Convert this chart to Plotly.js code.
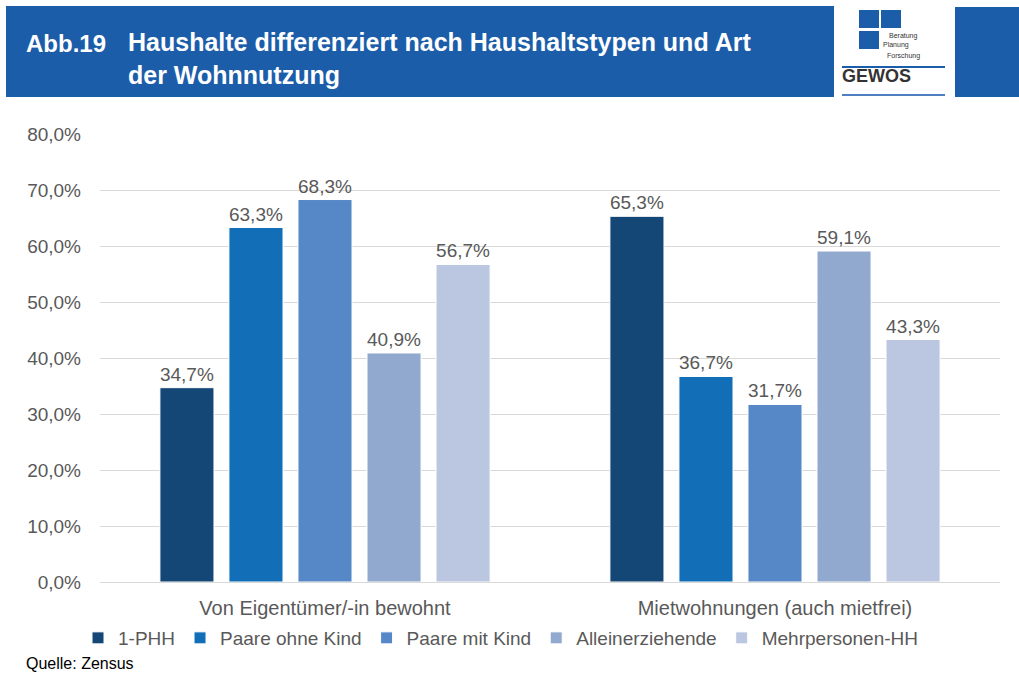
<!DOCTYPE html>
<html>
<head>
<meta charset="utf-8">
<script src="https://cdn.plot.ly/plotly-3.0.1.min.js"></script>
<style>
html,body{margin:0;padding:0;background:#fff;}
#chart{width:1019px;height:673px;}
</style>
</head>
<body>
<div id="chart"></div>
<script>
// ---- data ----
const categories = ["Von Eigentümer/-in bewohnt", "Mietwohnungen (auch mietfrei)"];
const seriesNames = ["1-PHH", "Paare ohne Kind", "Paare mit Kind", "Alleinerziehende", "Mehrpersonen-HH"];
const phh1 = [34.7, 65.3];
const paareOhneKind = [63.3, 36.7];
const paareMitKind = [68.3, 31.7];
const alleinerziehende = [40.9, 59.1];
const mehrpersonen = [56.7, 43.3];
const yTickVals = [0, 10, 20, 30, 40, 50, 60, 70, 80];
const yTickText = ["0,0%", "10,0%", "20,0%", "30,0%", "40,0%", "50,0%", "60,0%", "70,0%", "80,0%"];

const seriesValues = [phh1, paareOhneKind, paareMitKind, alleinerziehende, mehrpersonen];
const colors = ["#144676", "#116EB7", "#5688C8", "#91A9CF", "#BBC6E0"];

const W = 1019, H = 673;
const L = 100, R = 19, T = 134, B = 91;
const pw = W - L - R, ph = H - T - B;
const px = x => (x - L) / pw;
const py = y => (H - B - y) / ph;

const FONT = "Liberation Sans, Arial, sans-serif";
const GRAY = "#595959";

const traces = seriesNames.map((name, i) => ({
  type: "bar",
  name: name,
  x: categories,
  y: seriesValues[i],
  marker: {color: colors[i], line: {color: "#ffffff", width: 1}},
  texttemplate: "%{y:.1f}%",
  textposition: "outside",
  constraintext: "none",
  cliponaxis: false,
  textfont: {family: FONT, size: 19, color: GRAY},
  hoverinfo: "skip"
}));

const BLUE = "#1C5DAA";
const shapes = [
  {type: "rect", xref: "paper", yref: "paper", x0: px(6), x1: px(834), y0: py(6), y1: py(97), fillcolor: BLUE, line: {width: 0}, layer: "below"},
  {type: "rect", xref: "paper", yref: "paper", x0: px(955), x1: px(1019), y0: py(7), y1: py(97), fillcolor: BLUE, line: {width: 0}, layer: "below"},
  {type: "rect", xref: "paper", yref: "paper", x0: px(859), x1: px(879), y0: py(10), y1: py(28), fillcolor: BLUE, line: {width: 0}},
  {type: "rect", xref: "paper", yref: "paper", x0: px(881), x1: px(901), y0: py(10), y1: py(28), fillcolor: BLUE, line: {width: 0}},
  {type: "rect", xref: "paper", yref: "paper", x0: px(859), x1: px(879), y0: py(31), y1: py(49), fillcolor: BLUE, line: {width: 0}},
  {type: "line", xref: "paper", yref: "paper", x0: px(842), x1: px(945), y0: py(67), y1: py(67), line: {color: BLUE, width: 2}},
  {type: "line", xref: "paper", yref: "paper", x0: px(842), x1: px(945), y0: py(95), y1: py(95), line: {color: "#4F7FC0", width: 2}}
];

const annotations = [
  {text: "<b>Abb.19</b>", xref: "paper", yref: "paper", x: px(24), y: py(43), xanchor: "left", yanchor: "middle", showarrow: false, font: {family: FONT, size: 24, color: "#ffffff"}},
  {text: "Beratung", xref: "paper", yref: "paper", x: px(887), y: py(36), xanchor: "left", yanchor: "middle", showarrow: false, font: {family: FONT, size: 7, color: "#333333"}},
  {text: "Planung", xref: "paper", yref: "paper", x: px(881), y: py(45), xanchor: "left", yanchor: "middle", showarrow: false, font: {family: FONT, size: 7, color: "#333333"}},
  {text: "Forschung", xref: "paper", yref: "paper", x: px(885), y: py(56), xanchor: "left", yanchor: "middle", showarrow: false, font: {family: FONT, size: 7, color: "#333333"}},
  {text: "<b>GEWOS</b>", xref: "paper", yref: "paper", x: px(840), y: py(76), xanchor: "left", yanchor: "middle", showarrow: false, font: {family: FONT, size: 18, color: "#333333"}},
  {text: "Quelle: Zensus", xref: "paper", yref: "paper", x: px(24), y: py(663), xanchor: "left", yanchor: "middle", showarrow: false, font: {family: FONT, size: 16, color: "#000000"}}
];

const layout = {
  width: W, height: H,
  margin: {l: L, r: R, t: T, b: B, pad: 0},
  paper_bgcolor: "#ffffff",
  plot_bgcolor: "#ffffff",
  separators: ",.",
  font: {family: FONT, size: 19, color: GRAY},
  title: {
    text: "<b>Haushalte differenziert nach Haushaltstypen und Art<br>der Wohnnutzung</b>",
    x: 128 / W, xanchor: "left", xref: "container",
    y: 1 - 51 / H, yanchor: "top", yref: "container",
    font: {family: FONT, size: 25, color: "#ffffff"}
  },
  barmode: "group",
  bargap: 0.233,
  bargroupgap: 0.217,
  xaxis: {
    type: "category",
    showgrid: false,
    showline: true, linecolor: "#D9D9D9", linewidth: 1,
    ticks: "", ticklabelstandoff: 8,
    tickfont: {family: FONT, size: 20, color: GRAY},
    fixedrange: true
  },
  yaxis: {
    range: [0, 80],
    tickvals: yTickVals,
    ticktext: yTickText,
    showgrid: true, gridcolor: "#D9D9D9", gridwidth: 1,
    zeroline: false, showline: false,
    ticks: "", ticklabelstandoff: 18,
    tickfont: {family: FONT, size: 19, color: GRAY},
    fixedrange: true
  },
  legend: {
    orientation: "h",
    x: px(78), xanchor: "left",
    y: py(638), yanchor: "middle",
    bgcolor: "rgba(0,0,0,0)",
    font: {family: FONT, size: 19, color: GRAY},
    traceorder: "normal",
    itemclick: false, itemdoubleclick: false
  },
  showlegend: true,
  shapes: shapes,
  annotations: annotations
};

Plotly.newPlot("chart", traces, layout, {displayModeBar: false, staticPlot: true});
</script>
</body>
</html>
